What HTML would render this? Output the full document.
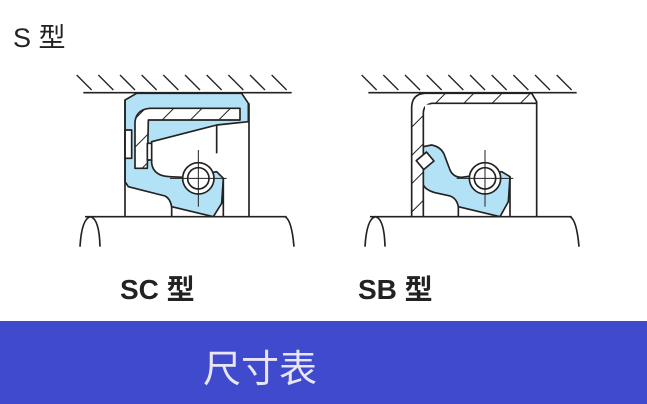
<!DOCTYPE html>
<html><head><meta charset="utf-8"><style>
html,body{margin:0;padding:0;background:#fff;}
body{width:647px;height:404px;position:relative;overflow:hidden;font-family:"Liberation Sans","Noto Sans CJK SC",sans-serif;}
.t{position:absolute;color:#222;white-space:nowrap;}
.banner{position:absolute;left:0;top:321px;width:647px;height:83px;background:#404acc;}
</style></head><body>
<div class="t" style="left:13px;top:16px;font-size:27px;">S 型</div>
<svg width="647" height="321" style="position:absolute;left:0;top:0" xmlns="http://www.w3.org/2000/svg">
<defs>
<pattern id="h" patternUnits="userSpaceOnUse" width="60" height="60" patternTransform="rotate(45)">
<rect width="60" height="60" fill="#fff"/><line x1="0" y1="0" x2="0" y2="60" stroke="#222" stroke-width="6"/></pattern>
</defs>
<!-- SC -->
<g transform="translate(70,70) scale(0.33333)" stroke="#222" stroke-width="5" fill="none" stroke-linejoin="round">
<line x1="40" y1="68" x2="665" y2="68"/>
<g stroke-width="4"><line x1="20" y1="15" x2="65" y2="60"/><line x1="85" y1="15" x2="130" y2="60"/><line x1="150" y1="15" x2="195" y2="60"/><line x1="215" y1="15" x2="260" y2="60"/><line x1="280" y1="15" x2="325" y2="60"/><line x1="345" y1="15" x2="390" y2="60"/><line x1="410" y1="15" x2="455" y2="60"/><line x1="475" y1="15" x2="520" y2="60"/><line x1="540" y1="15" x2="585" y2="60"/><line x1="605" y1="15" x2="650" y2="60"/></g>
<path d="M165,90 L200,70 L515,70 L535,100 L535,155 L440,165 L245,215 L245,280 Q250,318 300,320 L340,322 L440,305 L460,325 L455,400 L430,440 L305,410 Q300,385 285,378 L175,350 L165,335 Z" fill="#b3e1f6"/>
<path d="M195,295 L195,155 Q200,118 240,115 L510,115 L510,150 L235,150 L232,295 Z" fill="url(#h)"/>
<rect x="165" y="180" width="20" height="85" fill="#fff"/>
<rect x="232" y="220" width="13" height="50" fill="#fff"/>
<line x1="165" y1="90" x2="165" y2="440"/><line x1="305" y1="410" x2="305" y2="440"/><line x1="460" y1="325" x2="460" y2="440"/><line x1="537" y1="100" x2="537" y2="440"/><line x1="440" y1="165" x2="440" y2="250"/>
<circle cx="385" cy="325" r="47" fill="#fff"/><circle cx="385" cy="325" r="32"/>
<line x1="300" y1="325" x2="470" y2="325" stroke-width="3"/><line x1="385" y1="240" x2="385" y2="410" stroke-width="3"/>
<line x1="45" y1="440" x2="650" y2="440"/>
<path d="M30,530 Q35,445 62,440 Q88,448 90,530"/><path d="M645,440 Q665,450 672,530"/>
</g>
<!-- SB -->
<g transform="translate(355,70) scale(0.33333)" stroke="#222" stroke-width="5" fill="none" stroke-linejoin="round">
<line x1="40" y1="68" x2="665" y2="68"/>
<g stroke-width="4"><line x1="20" y1="15" x2="65" y2="60"/><line x1="85" y1="15" x2="130" y2="60"/><line x1="150" y1="15" x2="195" y2="60"/><line x1="215" y1="15" x2="260" y2="60"/><line x1="280" y1="15" x2="325" y2="60"/><line x1="345" y1="15" x2="390" y2="60"/><line x1="410" y1="15" x2="455" y2="60"/><line x1="475" y1="15" x2="520" y2="60"/><line x1="540" y1="15" x2="585" y2="60"/><line x1="605" y1="15" x2="650" y2="60"/></g>
<path d="M170,440 L170,110 Q172,72 210,70 L530,70 L545,95 L545,100 L230,100 Q205,105 205,130 L205,440" fill="url(#h)"/>
<rect x="210" y="104" width="330" height="330" fill="#fff" stroke="none"/>
<line x1="545" y1="95" x2="545" y2="440"/>
<path d="M205,230 L230,225 Q262,232 270,260 L285,300 Q295,322 320,322 L440,305 L465,320 L460,395 L435,440 L310,410 Q305,385 285,378 L240,368 Q212,360 205,345 Z" fill="#b3e1f6"/>
<rect x="190" y="255" width="40" height="35" fill="#fff" transform="rotate(-40 210 272)"/>
<line x1="310" y1="410" x2="310" y2="440"/><line x1="465" y1="320" x2="465" y2="440"/>
<circle cx="390" cy="325" r="47" fill="#fff"/><circle cx="390" cy="325" r="32"/>
<line x1="305" y1="325" x2="475" y2="325" stroke-width="3"/><line x1="390" y1="240" x2="390" y2="410" stroke-width="3"/>
<line x1="45" y1="440" x2="650" y2="440"/>
<path d="M30,530 Q35,445 62,440 Q88,448 90,530"/><path d="M645,440 Q665,450 672,530"/>
</g>
</svg>
<div class="t" style="left:120px;top:268px;font-size:28px;font-weight:bold;">SC 型</div>
<div class="t" style="left:358px;top:268px;font-size:28px;font-weight:bold;">SB 型</div>
<div class="banner"></div>
<div class="t" style="left:203px;top:338px;font-size:38px;color:#e8e6f6;">尺寸表</div>
</body></html>
